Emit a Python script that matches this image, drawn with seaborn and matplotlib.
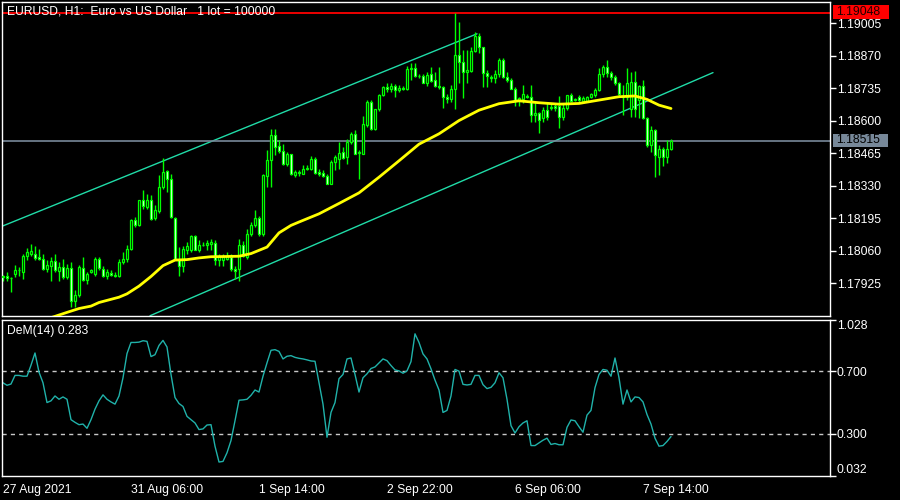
import numpy as np
import pandas as pd
import seaborn as sns
import matplotlib.pyplot as plt
from matplotlib.patches import Rectangle

# EURUSD H1 candles (bar 0 = 27 Aug 22:00)
opens = [1.17951, 1.17958, 1.17949, 1.17965, 1.17979, 1.17972, 1.18039, 1.18048, 1.18048, 1.18035,
         1.18028, 1.17986, 1.17996, 1.18018, 1.17976, 1.17993, 1.17951, 1.17990, 1.17854, 1.17879,
         1.17990, 1.17940, 1.17972, 1.17965, 1.18028, 1.17986, 1.17958, 1.17969, 1.17962, 1.17958,
         1.18014, 1.18028, 1.18069, 1.18190, 1.18166, 1.18273, 1.18243, 1.18270, 1.18198, 1.18226,
         1.18326, 1.18390, 1.18360, 1.18198, 1.18028, 1.17996, 1.18062, 1.18062, 1.18123, 1.18062,
         1.18083, 1.18086, 1.18087, 1.18093, 1.18021, 1.18023, 1.18028, 1.18034, 1.17985, 1.17985,
         1.18086, 1.18034, 1.18131, 1.18166, 1.18197, 1.18131, 1.18373, 1.18436, 1.18540, 1.18494,
         1.18475, 1.18422, 1.18461, 1.18376, 1.18389, 1.18380, 1.18401, 1.18401, 1.18443, 1.18387,
         1.18383, 1.18373, 1.18339, 1.18429, 1.18443, 1.18471, 1.18450, 1.18512, 1.18544, 1.18465,
         1.18464, 1.18582, 1.18679, 1.18568, 1.18647, 1.18706, 1.18741, 1.18731, 1.18744, 1.18727,
         1.18738, 1.18734, 1.18817, 1.18821, 1.18785, 1.18785, 1.18758, 1.18796, 1.18769, 1.18744,
         1.18741, 1.18697, 1.18692, 1.18730, 1.18873, 1.18845, 1.18804, 1.18807, 1.18891, 1.18952,
         1.18905, 1.18797, 1.18780, 1.18776, 1.18794, 1.18852, 1.18780, 1.18769, 1.18734, 1.18686,
         1.18690, 1.18703, 1.18700, 1.18624, 1.18633, 1.18610, 1.18644, 1.18655, 1.18660, 1.18661,
         1.18617, 1.18655, 1.18707, 1.18686, 1.18700, 1.18683, 1.18683, 1.18700, 1.18707, 1.18728,
         1.18794, 1.18825, 1.18800, 1.18780, 1.18755, 1.18703, 1.18698, 1.18651, 1.18762, 1.18686,
         1.18744, 1.18610, 1.18499, 1.18561, 1.18450, 1.18481, 1.18450, 1.18485]
highs = [1.17962, 1.17972, 1.17951, 1.18000, 1.17993, 1.18048, 1.18073, 1.18090, 1.18079, 1.18069,
         1.18048, 1.18021, 1.18035, 1.18048, 1.18014, 1.18028, 1.18007, 1.18014, 1.17896, 1.18000,
         1.18035, 1.17972, 1.17986, 1.18035, 1.18035, 1.17996, 1.17986, 1.17979, 1.17972, 1.18028,
         1.18055, 1.18083, 1.18194, 1.18201, 1.18273, 1.18312, 1.18298, 1.18291, 1.18250, 1.18374,
         1.18444, 1.18395, 1.18381, 1.18201, 1.18076, 1.18079, 1.18097, 1.18125, 1.18125, 1.18104,
         1.18097, 1.18107, 1.18111, 1.18107, 1.18048, 1.18048, 1.18055, 1.18048, 1.17999, 1.18110,
         1.18103, 1.18152, 1.18182, 1.18228, 1.18207, 1.18381, 1.18480, 1.18568, 1.18568, 1.18522,
         1.18505, 1.18471, 1.18464, 1.18397, 1.18397, 1.18415, 1.18415, 1.18453, 1.18450, 1.18401,
         1.18394, 1.18380, 1.18436, 1.18457, 1.18512, 1.18491, 1.18526, 1.18554, 1.18561, 1.18477,
         1.18619, 1.18688, 1.18686, 1.18651, 1.18713, 1.18744, 1.18755, 1.18758, 1.18752, 1.18748,
         1.18744, 1.18827, 1.18838, 1.18841, 1.18796, 1.18794, 1.18803, 1.18824, 1.18803, 1.18824,
         1.18744, 1.18713, 1.18748, 1.19046, 1.19008, 1.18894, 1.18894, 1.18908, 1.18970, 1.18963,
         1.18908, 1.18811, 1.18790, 1.18811, 1.18859, 1.18859, 1.18804, 1.18776, 1.18739, 1.18700,
         1.18748, 1.18710, 1.18748, 1.18679, 1.18637, 1.18658, 1.18679, 1.18672, 1.18672, 1.18703,
         1.18672, 1.18707, 1.18714, 1.18696, 1.18707, 1.18703, 1.18703, 1.18717, 1.18735, 1.18818,
         1.18832, 1.18852, 1.18808, 1.18790, 1.18762, 1.18748, 1.18818, 1.18804, 1.18808, 1.18748,
         1.18769, 1.18617, 1.18578, 1.18568, 1.18499, 1.18492, 1.18519, 1.18526]
lows = [1.17937, 1.17935, 1.17889, 1.17951, 1.17958, 1.17944, 1.18021, 1.18041, 1.18021, 1.18021,
        1.17979, 1.17972, 1.17937, 1.17972, 1.17937, 1.17944, 1.17944, 1.17826, 1.17826, 1.17868,
        1.17937, 1.17924, 1.17968, 1.17958, 1.17979, 1.17951, 1.17944, 1.17957, 1.17951, 1.17951,
        1.18007, 1.18014, 1.18062, 1.18159, 1.18162, 1.18236, 1.18236, 1.18190, 1.18187, 1.18218,
        1.18319, 1.18305, 1.18198, 1.18021, 1.17958, 1.17972, 1.18048, 1.18055, 1.18062, 1.18055,
        1.18079, 1.18062, 1.18062, 1.18000, 1.17996, 1.17996, 1.18021, 1.17978, 1.17944, 1.17937,
        1.18034, 1.18027, 1.18124, 1.18159, 1.18124, 1.18124, 1.18325, 1.18325, 1.18457, 1.18466,
        1.18415, 1.18411, 1.18374, 1.18366, 1.18373, 1.18378, 1.18394, 1.18394, 1.18380, 1.18373,
        1.18366, 1.18336, 1.18336, 1.18394, 1.18401, 1.18443, 1.18419, 1.18505, 1.18461, 1.18360,
        1.18461, 1.18575, 1.18563, 1.18561, 1.18641, 1.18702, 1.18720, 1.18720, 1.18699, 1.18720,
        1.18727, 1.18727, 1.18769, 1.18783, 1.18776, 1.18755, 1.18744, 1.18762, 1.18741, 1.18734,
        1.18655, 1.18674, 1.18679, 1.18651, 1.18755, 1.18693, 1.18755, 1.18804, 1.18887, 1.18880,
        1.18741, 1.18741, 1.18762, 1.18755, 1.18783, 1.18776, 1.18762, 1.18730, 1.18661, 1.18661,
        1.18672, 1.18693, 1.18596, 1.18596, 1.18550, 1.18596, 1.18603, 1.18644, 1.18640, 1.18572,
        1.18603, 1.18644, 1.18679, 1.18682, 1.18679, 1.18676, 1.18679, 1.18696, 1.18700, 1.18725,
        1.18783, 1.18780, 1.18770, 1.18748, 1.18700, 1.18623, 1.18686, 1.18617, 1.18617, 1.18610,
        1.18607, 1.18492, 1.18471, 1.18366, 1.18375, 1.18413, 1.18425, 1.18478]
closes = [1.17958, 1.17949, 1.17947, 1.17979, 1.17982, 1.18041, 1.18055, 1.18058, 1.18032, 1.18028,
          1.17986, 1.18000, 1.18018, 1.17982, 1.17993, 1.17951, 1.17990, 1.17854, 1.17879, 1.17993,
          1.17940, 1.17965, 1.17979, 1.18028, 1.17990, 1.17958, 1.17972, 1.17962, 1.17958, 1.18014,
          1.18028, 1.18069, 1.18190, 1.18166, 1.18270, 1.18245, 1.18270, 1.18194, 1.18229, 1.18326,
          1.18388, 1.18360, 1.18201, 1.18028, 1.17996, 1.18069, 1.18079, 1.18123, 1.18065, 1.18083,
          1.18086, 1.18093, 1.18096, 1.18021, 1.18035, 1.18035, 1.18041, 1.17985, 1.17978, 1.18086,
          1.18041, 1.18131, 1.18166, 1.18197, 1.18131, 1.18374, 1.18436, 1.18540, 1.18491, 1.18475,
          1.18422, 1.18461, 1.18378, 1.18389, 1.18384, 1.18401, 1.18403, 1.18443, 1.18383, 1.18380,
          1.18369, 1.18339, 1.18429, 1.18450, 1.18466, 1.18447, 1.18512, 1.18544, 1.18464, 1.18471,
          1.18586, 1.18679, 1.18568, 1.18647, 1.18706, 1.18741, 1.18731, 1.18744, 1.18727, 1.18738,
          1.18734, 1.18817, 1.18821, 1.18785, 1.18787, 1.18758, 1.18790, 1.18766, 1.18744, 1.18741,
          1.18697, 1.18692, 1.18730, 1.18873, 1.18845, 1.18804, 1.18810, 1.18891, 1.18952, 1.18905,
          1.18797, 1.18786, 1.18776, 1.18794, 1.18852, 1.18783, 1.18769, 1.18734, 1.18686, 1.18693,
          1.18711, 1.18700, 1.18624, 1.18633, 1.18603, 1.18644, 1.18614, 1.18658, 1.18652, 1.18617,
          1.18655, 1.18707, 1.18683, 1.18689, 1.18686, 1.18696, 1.18697, 1.18711, 1.18728, 1.18794,
          1.18825, 1.18800, 1.18780, 1.18758, 1.18711, 1.18698, 1.18755, 1.18762, 1.18651, 1.18744,
          1.18610, 1.18499, 1.18561, 1.18457, 1.18481, 1.18450, 1.18485, 1.18515]

# yellow moving average, sampled along its path
ma_bars = [12, 16, 19, 22, 24, 29, 31, 34, 37, 40, 43, 46, 49, 52, 56, 59, 62, 66, 69, 72,
           74, 79, 84, 89, 94, 99, 104, 109, 114, 119, 124, 129, 134, 139, 144, 149, 154, 158,
           161, 164, 167]
ma_values = [1.17783, 1.17805, 1.17821, 1.17831, 1.17846, 1.17868, 1.17882, 1.17914, 1.17954,
             1.17999, 1.18022, 1.18024, 1.18031, 1.18036, 1.18037, 1.18038, 1.18049, 1.18076,
             1.18135, 1.18166, 1.18180, 1.18214, 1.18257, 1.18301, 1.18366, 1.18434, 1.18503,
             1.18546, 1.18601, 1.18644, 1.18671, 1.18683, 1.18675, 1.18669, 1.18672, 1.18686,
             1.18700, 1.18703, 1.18689, 1.18665, 1.18651]

# DeMarker(14)
dem_values = [0.626, 0.610, 0.618, 0.673, 0.673, 0.668, 0.668, 0.738, 0.816, 0.694,
              0.626, 0.500, 0.511, 0.542, 0.521, 0.536, 0.521, 0.391, 0.374, 0.359,
              0.363, 0.336, 0.391, 0.458, 0.511, 0.549, 0.521, 0.504, 0.490, 0.542,
              0.658, 0.812, 0.883, 0.883, 0.885, 0.894, 0.890, 0.793, 0.805, 0.864,
              0.896, 0.854, 0.679, 0.532, 0.494, 0.475, 0.412, 0.391, 0.370, 0.328,
              0.332, 0.357, 0.359, 0.222, 0.121, 0.125, 0.180, 0.258, 0.384, 0.515,
              0.517, 0.521, 0.546, 0.580, 0.567, 0.668, 0.753, 0.833, 0.837, 0.826,
              0.778, 0.795, 0.799, 0.788, 0.782, 0.778, 0.772, 0.765, 0.763, 0.626,
              0.490, 0.279, 0.437, 0.500, 0.652, 0.679, 0.778, 0.784, 0.679, 0.567,
              0.658, 0.683, 0.717, 0.727, 0.753, 0.778, 0.767, 0.736, 0.708, 0.702,
              0.687, 0.702, 0.761, 0.938, 0.883, 0.810, 0.778, 0.715, 0.643, 0.580,
              0.437, 0.450, 0.542, 0.711, 0.700, 0.616, 0.612, 0.616, 0.673, 0.673,
              0.614, 0.589, 0.597, 0.626, 0.690, 0.658, 0.521, 0.353, 0.306, 0.346,
              0.370, 0.384, 0.226, 0.226, 0.243, 0.260, 0.273, 0.233, 0.239, 0.231,
              0.231, 0.342, 0.389, 0.384, 0.346, 0.311, 0.420, 0.450, 0.595, 0.679,
              0.711, 0.706, 0.668, 0.784, 0.658, 0.490, 0.580, 0.504, 0.536, 0.532,
              0.504, 0.424, 0.363, 0.273, 0.222, 0.226, 0.252, 0.283]

# channel lines (bar, price) end points
upper_bars = [0, 118.5]
upper_prices = [1.18164, 1.18961]
lower_bars = [36.75, 177.5]
lower_prices = [1.17791, 1.18800]

price_ticks = [1.17925, 1.18060, 1.18195, 1.18330, 1.18465, 1.18600, 1.18735, 1.18870, 1.19005]
dem_ticks = [0.032, 0.300, 0.700, 1.028]
time_bars = [0, 32, 64, 96, 128, 160]
time_labels = ['27 Aug 2021', '31 Aug 06:00', '1 Sep 14:00', '2 Sep 22:00', '6 Sep 06:00', '7 Sep 14:00']
high_line = 1.19048
bid_line = 1.18515

sns.set_style('dark')
plt.rcParams['font.family'] = ['Liberation Sans', 'DejaVu Sans']

GREEN = '#00FF00'
FS = 8.7

fig = plt.figure(figsize=(9, 5), dpi=100, facecolor='black')
ax = fig.add_axes([2 / 900, 1 - 316 / 500, 828 / 900, 314 / 500])
ax2 = fig.add_axes([2 / 900, 1 - 476 / 500, 828 / 900, 156.3 / 500])

df = pd.DataFrame({'open': opens, 'high': highs, 'low': lows, 'close': closes})
df['bar'] = np.arange(len(df))
bull = df['close'] >= df['open']
body_low = df[['open', 'close']].min(axis=1)
body_h = (df['close'] - df['open']).abs().clip(lower=0.000006)

for a in (ax, ax2):
    a.set_facecolor('black')
    for s in a.spines.values():
        s.set_color('white')
        s.set_linewidth(1)
    a.set_xlim(-0.25, 206.75)
    a.grid(False)

# main price panel
ax.plot(upper_bars, upper_prices, color='#20DCA8', lw=1, zorder=1)
ax.plot(lower_bars, lower_prices, color='#20DCA8', lw=1, zorder=1)
ax.axhline(high_line, color='#FF0000', lw=1.3, zorder=1)
ax.axhline(bid_line, color='#778899', lw=1.2, zorder=1)
ax.vlines(df['bar'], df['low'], df['high'], color=GREEN, lw=1, zorder=2)
ax.bar(df['bar'], body_h, bottom=body_low, width=0.62,
       color=np.where(bull, 'black', 'white'), edgecolor=GREEN, linewidth=0.9, zorder=3)
sns.lineplot(x=ma_bars, y=ma_values, ax=ax, color='#FFFF00', lw=2.0, zorder=4)

ax.set_ylim(1.17790, 1.19093)
ax.yaxis.tick_right()
ax.set_yticks(price_ticks)
ax.set_yticklabels([f'{p:.5f}' for p in price_ticks])
ax.tick_params(axis='y', colors='white', length=4, width=1, pad=1, labelsize=FS)
ax.set_xticks([])
ax.set_xlabel('')
ax.set_ylabel('')

# DeMarker panel
ax2.axhline(0.7, color='#C8C8C8', lw=1, ls=(0, (3, 3)))
ax2.axhline(0.3, color='#C8C8C8', lw=1, ls=(0, (3, 3)))
sns.lineplot(x=np.arange(len(dem_values)), y=dem_values, ax=ax2, color='#20B2AA', lw=1)
ax2.set_ylim(0.032, 1.028)
ax2.yaxis.tick_right()
ax2.set_yticks(dem_ticks)
ax2.set_yticklabels([f'{v:.3f}' for v in dem_ticks])
ax2.tick_params(axis='y', colors='white', length=4, width=1, pad=1, labelsize=FS)
ylabs = ax2.get_yticklabels()
ylabs[0].set_va('bottom')
ylabs[-1].set_va('top')
ax2.set_xticks(time_bars)
ax2.set_xticklabels(time_labels, ha='left')
ax2.tick_params(axis='x', colors='white', length=4, width=1, pad=2, labelsize=FS)
ax2.set_xlabel('')
ax2.set_ylabel('')
ax2.text(5 / 828, 1 - 11 / 156.3, f'DeM(14) {dem_values[-1]:.3f}', transform=ax2.transAxes,
         color='white', fontsize=FS, ha='left', va='center')

# header and price boxes
fig.text(7 / 900, 1 - 11 / 500, 'EURUSD, H1:  Euro vs US Dollar   1 lot = 100000',
         color='white', fontsize=FS, ha='left', va='center')
fig.patches.append(Rectangle((833 / 900, 1 - 18.8 / 500), 56 / 900, 13.6 / 500,
                             transform=fig.transFigure, facecolor='#FF0000', edgecolor='none'))
fig.text(836 / 900, 1 - 12 / 500, f'{high_line:.5f}', color='#200000', fontsize=FS,
         ha='left', va='center')
fig.patches.append(Rectangle((833 / 900, 1 - 147 / 500), 55 / 900, 13.4 / 500,
                             transform=fig.transFigure, facecolor='#778899', edgecolor='none'))
fig.text(836 / 900, 1 - 140.3 / 500, f'{bid_line:.5f}', color='black', fontsize=FS,
         ha='left', va='center')

fig.savefig('out.png', dpi=100, facecolor='black')
